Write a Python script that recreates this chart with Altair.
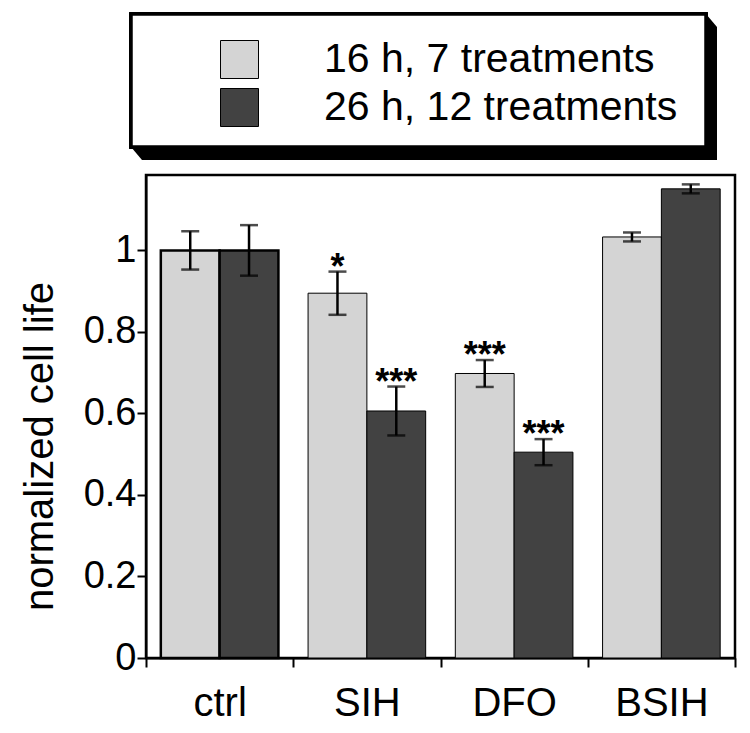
import altair as alt
import pandas as pd

categories = ["ctrl", "SIH", "DFO", "BSIH"]
series = ["16 h, 7 treatments", "26 h, 12 treatments"]
means_16 = [1.0, 0.895, 0.698, 1.033]
errs_16 = [0.047, 0.053, 0.033, 0.011]
means_26 = [1.0, 0.606, 0.505, 1.151]
errs_26 = [0.062, 0.060, 0.032, 0.011]
sig_16 = ["", "*", "***", ""]
sig_26 = ["", "***", "***", ""]
y_ticks = [0, 0.2, 0.4, 0.6, 0.8, 1]
colors = ["#d4d4d4", "#424242"]

rows = []
for s, means, errs, sigs in [(series[0], means_16, errs_16, sig_16),
                             (series[1], means_26, errs_26, sig_26)]:
    for c, m, e, g in zip(categories, means, errs, sigs):
        rows.append({"cat": c, "series": s, "mean": m,
                     "lo": m - e, "hi": m + e, "sig": g})
df = pd.DataFrame(rows)

# decorative legend frame and its drop shadow (pixel coordinates)
L, T, R, B, dx, dy = -15, -161, 560, -28, 11, 13
shadow = pd.DataFrame({
    "sx": [L, L + dx, R, R + dx],
    "sy": [T, T, T, T + dy],
    "sy2": [B, B + dy, B + dy, B + dy],
})

FONT = "Liberation Sans"

x_enc = alt.X("cat:N", sort=categories,
              scale=alt.Scale(paddingInner=0, paddingOuter=0),
              axis=alt.Axis(title=None, labelAngle=0, labelFontSize=40,
                            tickBand="extent", tickSize=9, tickWidth=2,
                            tickColor="black", domainColor="black",
                            domainWidth=2, labelPadding=16,
                            labelColor="black"))
xo_enc = alt.XOffset("series:N", sort=series,
                     scale=alt.Scale(paddingOuter=0.252, paddingInner=0))
y_scale = alt.Scale(domain=[0, 1.185], nice=False, zero=True)

base = alt.Chart(df)

shadow_layer = alt.Chart(shadow).mark_area(color="black", opacity=1).encode(
    x=alt.X("sx:Q", scale=None),
    y=alt.Y("sy:Q", scale=None),
    y2="sy2:Q",
)
frame_layer = alt.Chart(shadow).mark_rect(
    fill="white", stroke="black", strokeWidth=3.5).encode(
    x=alt.value(L), x2=alt.value(R), y=alt.value(T), y2=alt.value(B),
)

bars = base.mark_bar(stroke="black").encode(
    x=x_enc,
    xOffset=xo_enc,
    y=alt.Y("mean:Q", scale=y_scale,
            axis=alt.Axis(values=y_ticks, format="~g", labelFontSize=38,
                          tickSize=9, tickWidth=2, tickColor="black",
                          domainColor="black", domainWidth=2,
                          labelPadding=1, labelFlush=False,
                          labelColor="black", grid=False,
                          title="normalized cell life", titleFontSize=40,
                          titleFontWeight="normal", titleColor="black",
                          titleX=-94, titleY=271, titleAlign="center",
                          titleBaseline="alphabetic")),
    color=alt.Color("series:N", sort=series,
                    scale=alt.Scale(domain=series, range=colors),
                    legend=alt.Legend(orient="none", legendX=73,
                                      legendY=-136, title=None,
                                      padding=0,
                                      symbolType="square", symbolSize=1444,
                                      symbolStrokeColor="black",
                                      symbolStrokeWidth=1, symbolOpacity=1,
                                      labelFontSize=41, labelLimit=700,
                                      labelOffset=64, rowPadding=5,
                                      labelColor="black")),
    strokeWidth=alt.condition(alt.datum.cat == "ctrl",
                              alt.value(2.5), alt.value(1)),
)

rules = base.mark_rule(color="black", strokeWidth=2.5).encode(
    x=alt.X("cat:N", sort=categories), xOffset=xo_enc,
    y=alt.Y("lo:Q", scale=y_scale), y2="hi:Q",
)
tick_hi = base.mark_tick(color="black", size=18, thickness=2.5).encode(
    x=alt.X("cat:N", sort=categories), xOffset=xo_enc,
    y=alt.Y("hi:Q", scale=y_scale),
)
tick_lo = base.mark_tick(color="black", size=18, thickness=2.5).encode(
    x=alt.X("cat:N", sort=categories), xOffset=xo_enc,
    y=alt.Y("lo:Q", scale=y_scale),
)
stars = base.mark_text(fontSize=36, fontWeight="bold", baseline="alphabetic",
                       dy=7, color="black").encode(
    x=alt.X("cat:N", sort=categories), xOffset=xo_enc,
    y=alt.Y("hi:Q", scale=y_scale),
    text="sig:N",
)

chart = alt.layer(shadow_layer, frame_layer, bars, rules, tick_hi, tick_lo,
                  stars).properties(
    width=589, height=483,
    autosize=alt.AutoSizeParams(type="none"),
    padding={"left": 138, "top": 167, "right": 5, "bottom": 68},
).configure(font=FONT).configure_view(stroke="black", strokeWidth=2.5)

chart.save("out.html", embed_options={"renderer": "svg", "actions": False})
